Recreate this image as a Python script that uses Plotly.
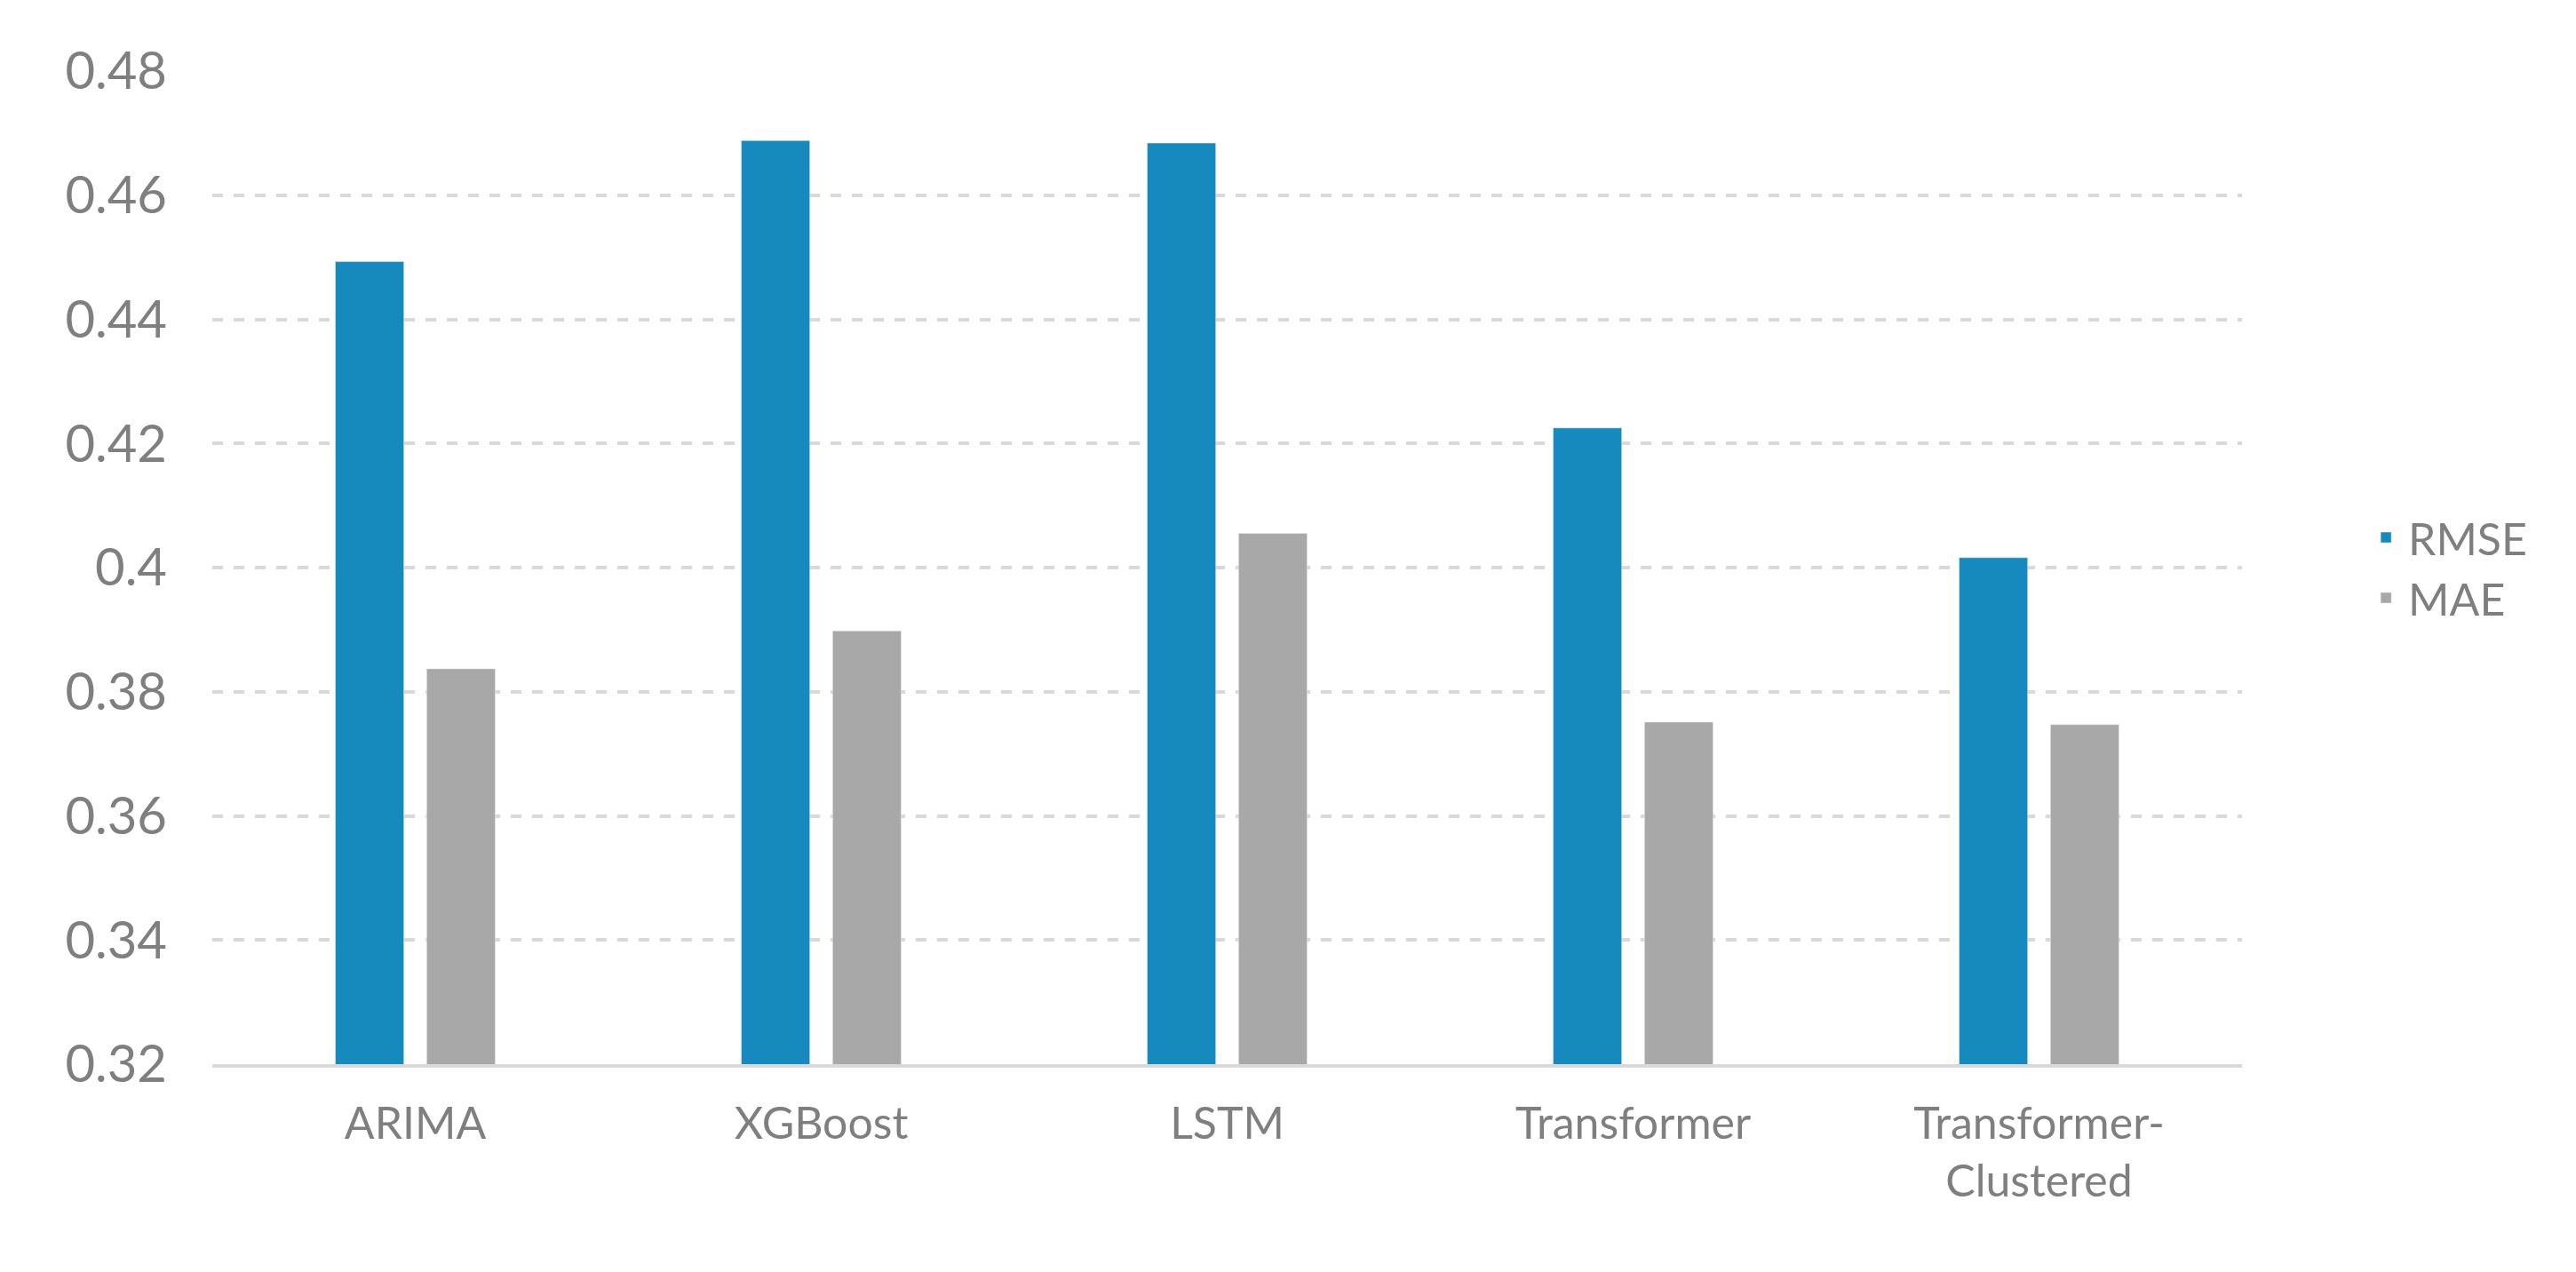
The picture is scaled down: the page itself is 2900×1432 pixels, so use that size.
import plotly.graph_objects as go

categories = ["ARIMA", "XGBoost", "LSTM", "Transformer", "Transformer-<br>Clustered"]
rmse = [0.4493, 0.4688, 0.4684, 0.4225, 0.4016]
mae = [0.3837, 0.3898, 0.4055, 0.3751, 0.3747]

fig = go.Figure()
fig.add_bar(name="RMSE", x=categories, y=rmse, marker_color="#168ABF")
fig.add_bar(name="MAE", x=categories, y=mae, marker_color="#A8A8A8")
font = dict(family="Lato", color="#7F7F7F")
fig.update_layout(
    width=2900, height=1432, barmode="group", bargap=0.55, bargroupgap=0.25,
    plot_bgcolor="white", paper_bgcolor="white",
    margin=dict(l=231, r=384, t=72, b=242),
    font=dict(family="Lato", color="#7F7F7F", size=50),
    legend=dict(x=1.06, y=0.5, yanchor="middle", font=dict(size=50), itemwidth=40, tracegroupgap=40),
    xaxis=dict(showline=True, linecolor="#D9D9D9", linewidth=4, tickfont=dict(size=50), ticklabelstandoff=20),
    yaxis=dict(range=[0.32, 0.48], dtick=0.02, showgrid=True, gridcolor="#D9D9D9", gridwidth=4,
               griddash="dash", tickfont=dict(size=58), tickvals=[0.32,0.34,0.36,0.38,0.4,0.42,0.44,0.46,0.48],
               ticktext=["0.32","0.34","0.36","0.38","0.4","0.42","0.44","0.46","0.48"], ticklabelstandoff=50, zeroline=False),
)
fig.write_html("out.html")
